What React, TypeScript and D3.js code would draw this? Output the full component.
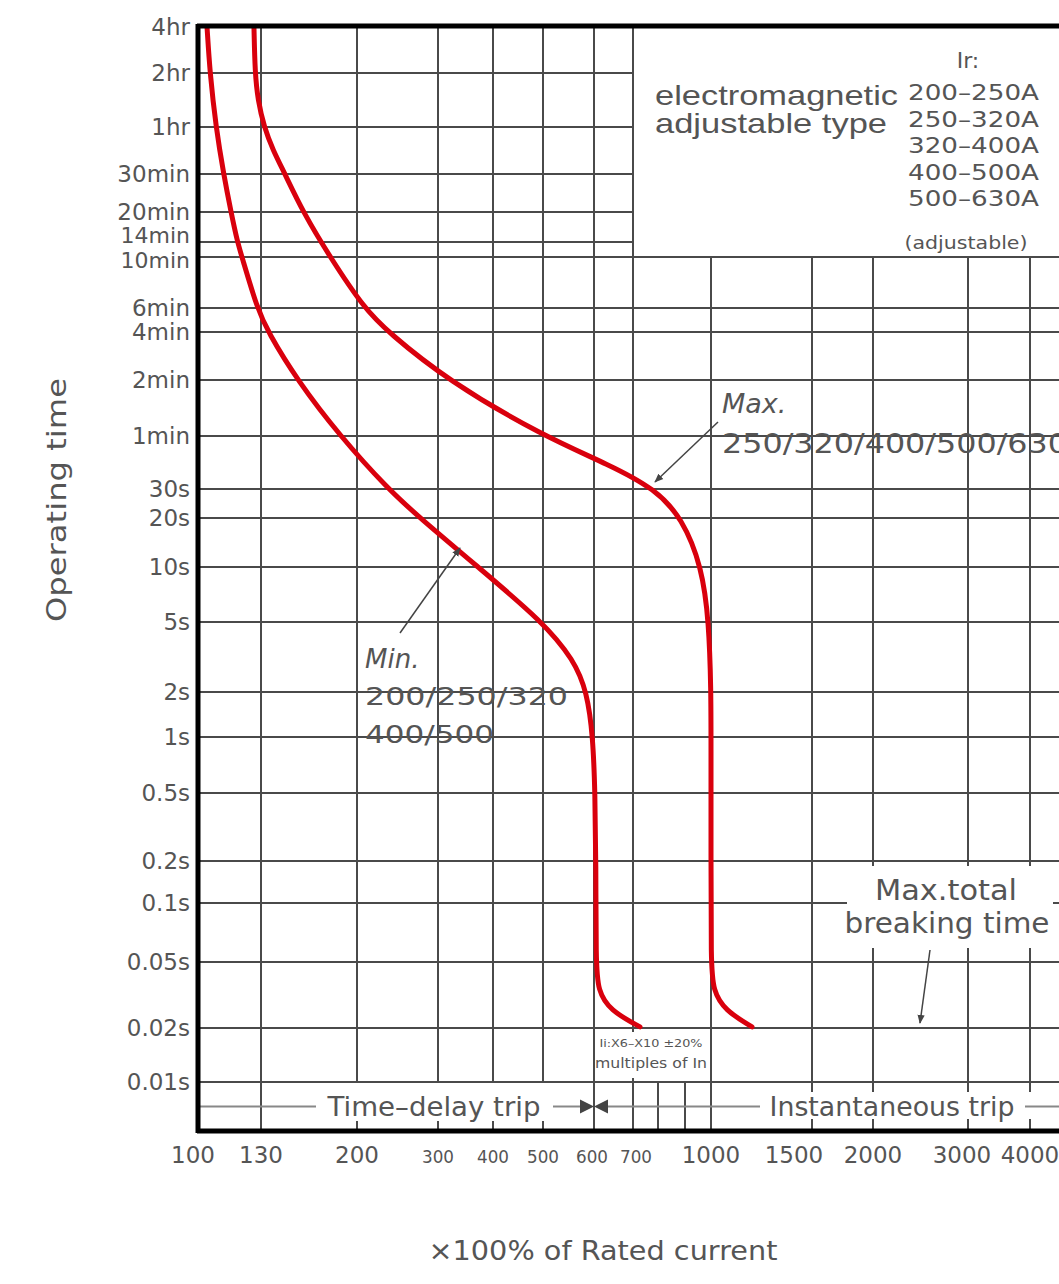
import React from "react";
import * as d3 from "d3";

// ---- data ----
const currentTicks = [100, 130, 200, 300, 400, 500, 600, 700, 800, 900, 1000, 1500, 2000, 3000, 4000];
const currentTickLabels = ["100", "130", "200", "300", "400", "500", "600", "700", "", "", "1000", "1500", "2000", "3000", "4000"];
const timeTicks = [14400, 7200, 3600, 1800, 1200, 840, 600, 360, 240, 120, 60, 30, 20, 10, 5, 2, 1, 0.5, 0.2, 0.1, 0.05, 0.02, 0.01];
const timeTickLabels = ["4hr", "2hr", "1hr", "30min", "20min", "14min", "10min", "6min", "4min", "2min", "1min", "30s", "20s", "10s", "5s", "2s", "1s", "0.5s", "0.2s", "0.1s", "0.05s", "0.02s", "0.01s"];

const minCurrent = [103.9, 105.3, 108.2, 111.9, 115.5, 118.6, 120.8, 128.1, 135.1, 156.3, 187.6, 238.3, 277.8, 372.7, 500, 560.8, 586.3, 598, 602.6, 605, 605, 610, 641, 728];
const minTime = [14300, 7200, 3600, 1800, 1200, 840, 600, 360, 240, 120, 60, 30, 20, 10, 5, 3.37, 2, 1, 0.5, 0.2, 0.05, 0.037, 0.028, 0.0205];

const maxCurrent = [126.6, 127.1, 128.5, 132.2, 138.7, 147.5, 160.6, 180.3, 208.6, 238.3, 316.4, 500, 641, 788, 889, 965, 992, 1000, 1000, 1000, 1000, 1010, 1069, 1203];
const maxTime = [14300, 7200, 5400, 3600, 2719, 1800, 1200, 600, 360, 240, 120, 60, 43.6, 30, 20, 10, 5, 2, 1, 0.2, 0.05, 0.037, 0.028, 0.0205];

const ratingRanges = ["200–250A", "250–320A", "320–400A", "400–500A", "500–630A"];

// ---- layout (non-uniform printed axis) ----
const W = 1059;
const H = 1284;
const xStops = [199, 261, 357, 438, 493, 543, 594, 633, 658, 685, 711, 812, 873, 968, 1030];
const yStops = [27, 73, 127, 174, 212, 242, 257, 308, 332, 380, 436, 489, 518, 567, 622, 692, 737, 793, 861, 903, 962, 1028, 1082];
const BOTTOM = 1131;
const FONT = "'DejaVu Sans', sans-serif";
const TXT = "#555";
const GRID = "#4a4a4a";
const RED = "#d9000d";

export default function App() {
  const x = d3.scaleLinear().domain(currentTicks).range(xStops);
  const y = d3.scaleLinear().domain(timeTicks).range(yStops);
  const line = d3
    .line<[number, number]>()
    .x((d) => x(d[0]))
    .y((d) => y(d[1]))
    .curve(d3.curveBasis);

  const minPts = minCurrent.map((c, i) => [c, minTime[i]] as [number, number]);
  const maxPts = maxCurrent.map((c, i) => [c, maxTime[i]] as [number, number]);

  const left = x(100);
  const top = y(14400);
  const boxLeft = x(700);
  const boxBottom = y(600);
  const stripTop = y(0.01);
  const stripMid = (stripTop + BOTTOM) / 2;
  const fullLines = new Set([130, 600, 700, 800, 900, 1000]);

  const hLines = timeTicks.slice(1).map((t) => ({
    y: y(t),
    x2: t > 600 ? boxLeft : W,
  }));
  const vLines = currentTicks.slice(1).map((c) => ({
    x: x(c),
    y1: c === 800 || c === 900 ? stripTop : c > 700 ? boxBottom : top,
    y2: fullLines.has(c) ? BOTTOM : stripTop,
    c,
  }));

  const yLabelShift = (t: number) => (t === 840 ? -7 : t === 600 ? 3 : 0);
  const yLabelSize = (t: number) => (t === 840 || t === 600 ? 22 : 23);
  const xLabelX = (c: number) =>
    c === 100 ? x(c) - 6 : c === 1500 ? x(c) - 18 : c === 3000 ? x(c) - 6 : c === 700 ? x(c) + 3 : c === 600 ? x(c) - 2 : x(c);

  return (
    <svg
      width={W}
      height={H}
      style={{ position: "absolute", left: 0, top: 0, background: "#fff" }}
      fontFamily={FONT}
    >
      <defs>
        <marker id="ah" viewBox="0 0 10 10" refX="9" refY="5" markerWidth="9" markerHeight="9" orient="auto" markerUnits="userSpaceOnUse">
          <path d="M0,1 L10,5 L0,9 Z" fill="#444" />
        </marker>
      </defs>
      <rect x={0} y={0} width={W} height={H} fill="#fff" />

      {/* grid */}
      <g stroke={GRID} strokeWidth={2}>
        {hLines.map((h, i) => (
          <line key={"h" + i} x1={left} x2={h.x2} y1={h.y} y2={h.y} />
        ))}
        {vLines.map((v, i) => (
          <line key={"v" + i} x1={v.x} x2={v.x} y1={v.y1} y2={v.y2} />
        ))}
        {currentTicks
          .filter((c) => c >= 200 && c <= 500)
          .map((c) => (
            <line key={"bt" + c} x1={x(c)} x2={x(c)} y1={BOTTOM - 10} y2={BOTTOM} />
          ))}
        {currentTicks
          .filter((c) => c >= 1500)
          .map((c) => (
            <g key={"tt" + c}>
              <line x1={x(c)} x2={x(c)} y1={stripTop} y2={stripTop + 10} />
              <line x1={x(c)} x2={x(c)} y1={BOTTOM - 12} y2={BOTTOM} />
            </g>
          ))}
      </g>

      {/* white text backgrounds */}
      <rect x={x(600) + 2} y={1032} width={x(1000) - x(600) - 3} height={46} fill="#fff" />
      <rect x={847} y={866} width={206} height={82} fill="#fff" />

      {/* trip strip */}
      <g stroke="#888" strokeWidth={2}>
        <line x1={left} x2={316} y1={stripMid} y2={stripMid} />
        <line x1={553} x2={581} y1={stripMid} y2={stripMid} />
        <line x1={607} x2={760} y1={stripMid} y2={stripMid} />
        <line x1={1025} x2={W} y1={stripMid} y2={stripMid} />
      </g>
      <path d={`M${x(600) - 14},${stripMid - 7} L${x(600)},${stripMid} L${x(600) - 14},${stripMid + 7} Z`} fill="#444" />
      <path d={`M${x(600) + 14},${stripMid - 7} L${x(600)},${stripMid} L${x(600) + 14},${stripMid + 7} Z`} fill="#444" />
      <text x={434} y={stripMid + 9} fontSize={26} fill={TXT} textAnchor="middle" textLength={213} lengthAdjust="spacingAndGlyphs">
        Time–delay trip
      </text>
      <text x={892} y={stripMid + 9} fontSize={26} fill={TXT} textAnchor="middle" textLength={245} lengthAdjust="spacingAndGlyphs">
        Instantaneous trip
      </text>
      <text x={651} y={1047} fontSize={11} fill={TXT} textAnchor="middle" textLength={103} lengthAdjust="spacingAndGlyphs">
        Ii:X6–X10 ±20%
      </text>
      <text x={651} y={1068} fontSize={14} fill={TXT} textAnchor="middle" textLength={112} lengthAdjust="spacingAndGlyphs">
        multiples of In
      </text>

      {/* curves */}
      <path d={line(minPts) || ""} fill="none" stroke={RED} strokeWidth={5} strokeLinecap="round" />
      <path d={line(maxPts) || ""} fill="none" stroke={RED} strokeWidth={5} strokeLinecap="round" />

      {/* frame */}
      <g stroke="#000" strokeWidth={5}>
        <line x1={left - 2} x2={W} y1={top - 1} y2={top - 1} />
        <line x1={left - 2} x2={W} y1={BOTTOM} y2={BOTTOM} />
        <line x1={left - 1} x2={left - 1} y1={top - 3} y2={BOTTOM + 2} />
      </g>

      {/* y tick labels */}
      {timeTicks.map((t, i) => (
        <text key={"yl" + i} x={190} y={y(t) + yLabelShift(t)} dy="0.36em" fontSize={yLabelSize(t)} fill={TXT} textAnchor="end">
          {timeTickLabels[i]}
        </text>
      ))}
      {/* x tick labels */}
      {currentTicks.map((c, i) =>
        currentTickLabels[i] ? (
          <text
            key={"xl" + i}
            x={xLabelX(c)}
            y={1163}
            fontSize={c >= 300 && c <= 700 ? 18 : 23}
            fill={TXT}
            textAnchor="middle"
            textLength={c >= 300 && c <= 700 ? 32 : undefined}
            lengthAdjust="spacingAndGlyphs"
          >
            {currentTickLabels[i]}
          </text>
        ) : null
      )}

      {/* axis titles */}
      <text
        transform={`translate(66,500) rotate(-90)`}
        fontSize={27}
        fill={TXT}
        textAnchor="middle"
        textLength={244}
        lengthAdjust="spacingAndGlyphs"
      >
        Operating time
      </text>
      <text x={603} y={1260} fontSize={27} fill={TXT} textAnchor="middle" textLength={349} lengthAdjust="spacingAndGlyphs">
        ×100% of Rated current
      </text>

      {/* legend box */}
      <g fill={TXT}>
        <text x={655} y={105} fontSize={28} fontFamily="'Liberation Sans', Arial, sans-serif" textLength={243} lengthAdjust="spacingAndGlyphs">
          electromagnetic
        </text>
        <text x={655} y={133} fontSize={28} fontFamily="'Liberation Sans', Arial, sans-serif" textLength={232} lengthAdjust="spacingAndGlyphs">
          adjustable type
        </text>
        <text x={968} y={68} fontSize={22} textAnchor="middle">
          Ir:
        </text>
        {ratingRanges.map((r, i) => (
          <text key={r} x={908} y={100 + i * 26.5} fontSize={22} textLength={131} lengthAdjust="spacingAndGlyphs">
            {r}
          </text>
        ))}
        <text x={966} y={249} fontSize={17} textAnchor="middle" textLength={123} lengthAdjust="spacingAndGlyphs">
          (adjustable)
        </text>
      </g>

      {/* annotations */}
      <g fill={TXT}>
        <text x={722} y={413} fontSize={27} fontStyle="italic">Max.</text>
        <text x={722} y={453} fontSize={27} textLength={346} lengthAdjust="spacingAndGlyphs">
          250/320/400/500/630
        </text>
        <text x={365} y={668} fontSize={26} fontStyle="italic">Min.</text>
        <text x={365} y={705} fontSize={25} textLength={203} lengthAdjust="spacingAndGlyphs">
          200/250/320
        </text>
        <text x={365} y={743} fontSize={25} textLength={129} lengthAdjust="spacingAndGlyphs">
          400/500
        </text>
        <text x={946} y={900} fontSize={28} textAnchor="middle" textLength={142} lengthAdjust="spacingAndGlyphs">
          Max.total
        </text>
        <text x={947} y={933} fontSize={28} textAnchor="middle" textLength={205} lengthAdjust="spacingAndGlyphs">
          breaking time
        </text>
      </g>
      <g stroke="#444" strokeWidth={1.5} fill="none">
        <line x1={718} y1={422} x2={655} y2={482} markerEnd="url(#ah)" />
        <line x1={400} y1={633} x2={460} y2={548} markerEnd="url(#ah)" />
        <line x1={930} y1={950} x2={920} y2={1023} markerEnd="url(#ah)" />
      </g>
    </svg>
  );
}
